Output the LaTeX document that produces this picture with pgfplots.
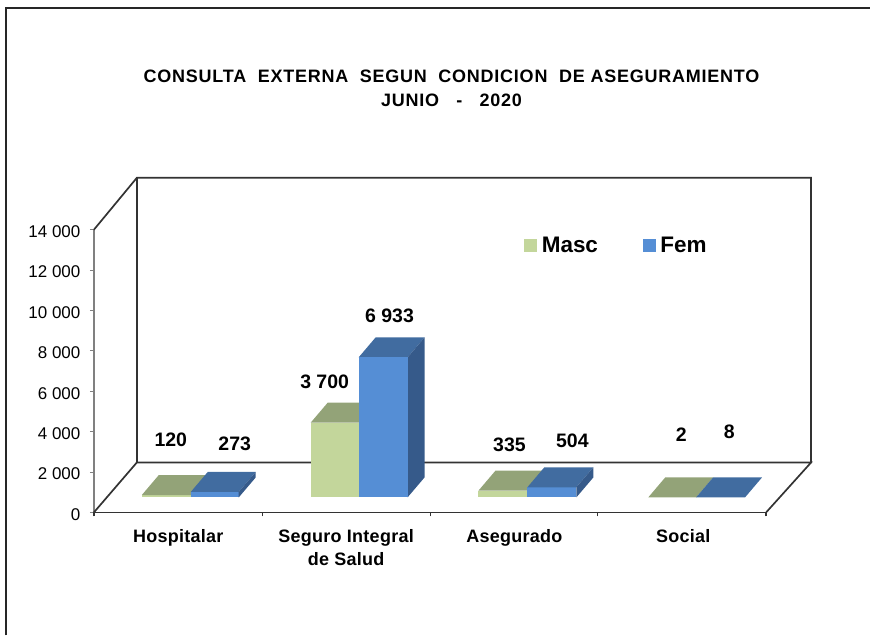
\documentclass[border=0pt]{standalone}
\usepackage{fontspec}
\setmainfont{Liberation Sans}
\usepackage{pgfplots}
\pgfplotsset{compat=1.18}
\definecolor{mascF}{HTML}{C3D69B}
\definecolor{mascT}{HTML}{93A378}
\definecolor{femF}{HTML}{558ED5}
\definecolor{femT}{HTML}{416CA0}
\definecolor{femS}{HTML}{365A8A}
\definecolor{wall}{HTML}{333333}
\begin{document}
\begin{tikzpicture}[x=1pt,y=1pt]
% x axis runs in picture pixels, y axis in patients with the floor of the bars at 0
\begin{axis}[
  scale only axis,
  width=673pt,
  height=283pt,
  xmin=94,xmax=767,
  ymin=-742,ymax=13258,
  clip=false,
  scaled y ticks=false,
  axis x line*=bottom,
  axis y line*=left,
  x axis line style={wall,line width=1.7pt,-},
  y axis line style={gray,line width=1.7pt,-},
  ytick={-742,1258,3258,5258,7258,9258,11258,13258},
  yticklabels={0,2 000,4 000,6 000,8 000,10 000,12 000,14 000},
  y tick style={gray,line width=1pt},
  y tick label style={font=\fontsize{17}{18}\selectfont,xshift=-6pt,yshift=-2pt},
  major tick length=4pt,
  tick align=outside,
  xtick={178.5,346.5,515,684},
  xticklabels={Hospitalar,Seguro Integral\\de Salud,Asegurado,Social},
  x tick style={draw=none},
  x tick label style={font=\fontsize{18}{23}\selectfont\bfseries\addfontfeature{LetterSpace=1.5},align=center,anchor=north,yshift=-10pt},
  extra x ticks={94,263,431,598,767},
  extra x tick labels={},
  extra x tick style={x tick style={wall,line width=1.3pt,draw=wall}},
  title={CONSULTA\ \ EXTERNA\ \ SEGUN\ \ CONDICION\ \ DE ASEGURAMIENTO\\JUNIO\ \ \ -\ \ \ 2020},
  title style={at={(axis cs:452,19987)},anchor=center,align=center,font=\fontsize{18}{24}\selectfont\bfseries\addfontfeature{LetterSpace=4.3}},
  legend columns=2,
  legend style={at={(axis cs:525,12490)},anchor=west,draw=none,fill=none,inner sep=0pt,outer sep=0pt,
    font=\fontsize{22.5}{24}\selectfont\bfseries,
    /tikz/every even column/.style={column sep=43pt}},
  legend cell align=left,
  legend image code/.code={\fill[#1] (0pt,-6pt) rectangle (12pt,6pt);\path (15pt,0pt);},
]
\addlegendimage{mascF}
\addlegendentry{Masc}
\addlegendimage{femF}
\addlegendentry{Fem}

% page size and outer frame
\path (axis cs:0,-6827) rectangle (axis cs:871,24636);
\addplot[forget plot,black!85,line width=2pt,mark=none] coordinates {(6.5,-6827) (6.5,24240) (871,24240)};

% walls and floor
\addplot[forget plot,wall,line width=1.7pt,mark=none] coordinates {(94,-742) (137,1731) (812,1731) (767,-742)};
\addplot[forget plot,wall,line width=1.7pt,mark=none] coordinates {(94,13258) (137,15830) (812,15830) (812,1731)};
\addplot[forget plot,wall,line width=1.7pt,mark=none] coordinates {(137,1731) (137,15830)};

% Hospitalar
\addplot[forget plot,fill=mascF,draw=none] coordinates {(142,0) (191,0) (191,120) (142,120)} --cycle;
\addplot[forget plot,fill=mascT,draw=none] coordinates {(142,120) (191,120) (208,1109) (159,1109)} --cycle;
\addplot[forget plot,fill=femF,draw=none] coordinates {(191,0) (239,0) (239,273) (191,273)} --cycle;
\addplot[forget plot,fill=femT,draw=none] coordinates {(191,273) (239,273) (256,1262) (208,1262)} --cycle;
\addplot[forget plot,fill=femS,draw=none] coordinates {(239,0) (256,989) (256,1262) (239,273)} --cycle;

% Seguro Integral de Salud
\addplot[forget plot,fill=mascT,draw=none] coordinates {(311,3700) (359,3700) (376,4689) (328,4689)} --cycle;
\addplot[forget plot,fill=mascF,draw=none] coordinates {(311,0) (359,0) (359,3700) (311,3700)} --cycle;
\addplot[forget plot,fill=femT,draw=none] coordinates {(359,6933) (408,6933) (425,7922) (376,7922)} --cycle;
\addplot[forget plot,fill=femS,draw=none] coordinates {(408,0) (425,989) (425,7922) (408,6933)} --cycle;
\addplot[forget plot,fill=femF,draw=none] coordinates {(359,0) (408,0) (408,6933) (359,6933)} --cycle;

% Asegurado
\addplot[forget plot,fill=mascF,draw=none] coordinates {(479,0) (528,0) (528,335) (479,335)} --cycle;
\addplot[forget plot,fill=mascT,draw=none] coordinates {(479,335) (528,335) (545,1324) (496,1324)} --cycle;
\addplot[forget plot,fill=femF,draw=none] coordinates {(528,0) (577,0) (577,504) (528,504)} --cycle;
\addplot[forget plot,fill=femT,draw=none] coordinates {(528,504) (577,504) (594,1493) (545,1493)} --cycle;
\addplot[forget plot,fill=femS,draw=none] coordinates {(577,0) (594,989) (594,1493) (577,504)} --cycle;

% Social
\addplot[forget plot,fill=mascT,draw=none] coordinates {(649,2) (697,2) (714,991) (666,991)} --cycle;
\addplot[forget plot,fill=femT,draw=none] coordinates {(697,8) (746,8) (763,997) (714,997)} --cycle;

% value labels
\begin{scope}[every node/.style={font=\fontsize{19.5}{20}\selectfont\bfseries,anchor=center,inner sep=0pt}]
\node at (axis cs:171,2869) {120};
\node at (axis cs:235,2671) {273};
\node at (axis cs:325,5739) {3 700};
\node at (axis cs:390,9004) {6 933};
\node at (axis cs:510,2622) {335};
\node at (axis cs:573,2820) {504};
\node at (axis cs:682,3117) {2};
\node at (axis cs:730,3265) {8};
\end{scope}
\end{axis}
\end{tikzpicture}
\end{document}
